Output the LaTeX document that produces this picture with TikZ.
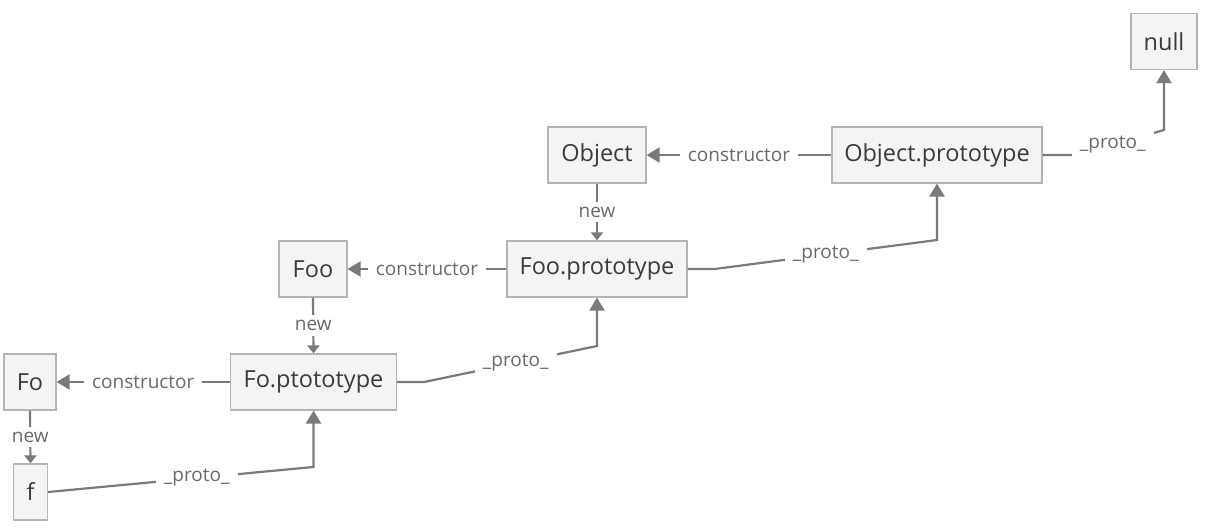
\documentclass[tikz,border=0pt]{standalone}
\usepackage{fontspec}
\setmainfont{Open Sans}
\usetikzlibrary{arrows.meta}
\definecolor{boxfill}{HTML}{F4F4F4}
\definecolor{boxline}{HTML}{B4B4B4}
\definecolor{linec}{HTML}{7A7A7A}
\definecolor{textc}{HTML}{3A3A3A}
\definecolor{lblc}{HTML}{6A6A6A}
\begin{document}
\begin{tikzpicture}[x=1pt,y=-1pt,
  box/.style={draw=boxline, fill=boxfill, line width=1.2pt, inner sep=0pt,
    text=textc, font=\fontsize{23.5}{27}\selectfont, minimum height=56pt},
  conn/.style={draw=linec, line width=2.2pt, -{Triangle[length=13pt,width=15pt]}},
  newconn/.style={draw=linec, line width=2.2pt, -{Triangle[length=8pt,width=12pt]}},
  lbl/.style={fill=white, text=lblc, font=\fontsize{19}{22}\selectfont, inner xsep=8pt, inner ysep=5pt}]
\useasboundingbox (0,0) rectangle (1210,532);
\fill[white] (0,0) rectangle (1210,532);

\node[box, minimum width=66pt] (null) at (1164,41.5) {null};
\node[box, minimum width=98pt] (O) at (597,155) {Object};
\node[box, minimum width=210pt] (Op) at (937,155) {Object.prototype};
\node[box, minimum width=68pt] (Foo) at (313,269) {Foo};
\node[box, minimum width=180pt] (Fp) at (597,269) {Foo.prototype};
\node[box, minimum width=52pt] (Fo) at (30,382) {Fo};
\node[box, minimum width=166pt] (Fop) at (313.5,382) {Fo.ptototype};
\node[box, minimum width=34pt] (f) at (30.5,492) {f};

% constructor links
\draw[conn] (Op.west) -- node[lbl]{constructor} (O.east);
\draw[conn] (Fp.west) -- node[lbl]{constructor} (Foo.east);
\draw[conn] (Fop.west) -- node[lbl]{constructor} (Fo.east);

% new links
\draw[newconn] (O.south) -- node[lbl]{new} (Fp.north);
\draw[newconn] (Foo.south) -- node[lbl]{new} (Fop.north);
\draw[newconn] (Fo.south) -- node[lbl]{new} (f.north);

% proto links
\draw[conn] (f.east) -- node[lbl,pos=0.56]{\_proto\_} (Fop.south |- 0,467) -- (Fop.south);
\draw[conn] (Fop.east) -- ++(27,0) -- node[lbl,pos=0.53]{\_proto\_} (Fp.south |- 0,346) -- (Fp.south);
\draw[conn] (Fp.east) -- ++(27,0) -- node[lbl,pos=0.5]{\_proto\_} (Op.south |- 0,240) -- (Op.south);
\draw[conn] (Op.east) -- ++(33,0) -- node[lbl,pos=0.42]{\_proto\_} (null.south |- 0,130) -- (null.south);
\end{tikzpicture}
\end{document}
